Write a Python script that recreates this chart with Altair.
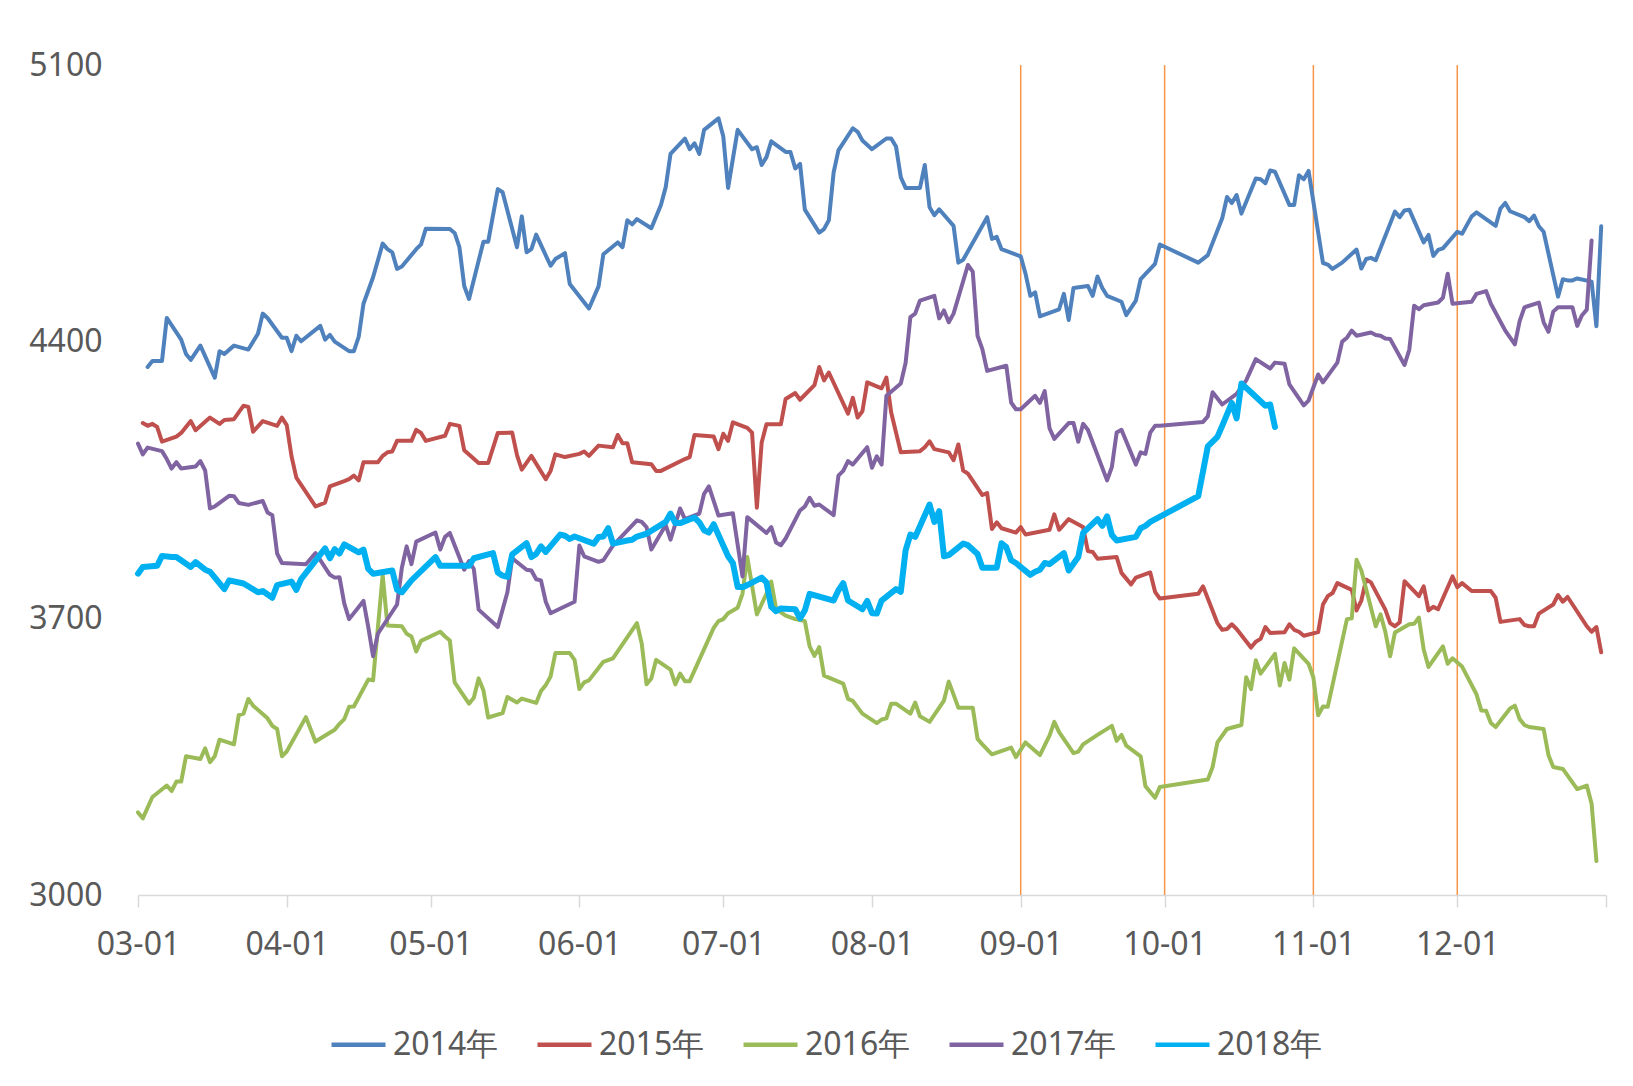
import altair as alt
import pandas as pd

# ---- data (x = days after 03-01, y = value) ----
d2014 = [2,3,5,6,9,10,11,13,16,17,18,20,23,25,26,27,30,31,32,33,34,38,39,40,41,44,45,46,47,49,51,52,53,54,55,58,59,60,65,66,67,68,69,72,73,75,76,79,80,81,82,83,86,87,89,90,94,96,97,100,101,102,103,104,107,109,110,111,114,115,116,117,118,121,122,123,125,128,129,130,131,132,135,136,137,138,139,142,143,144,145,146,149,150,151,153,156,157,158,159,160,163,164,165,166,167,170,171,172,177,178,179,180,184,185,186,187,188,192,193,194,195,198,199,200,201,202,205,206,208,209,212,213,221,223,226,227,228,229,230,233,234,235,236,237,240,241,242,243,244,247,248,249,251,254,255,256,257,258,262,263,264,265,268,269,270,271,272,275,276,278,279,283,284,285,286,289,290,291,292,293,296,297,298,299,300,303,304,305]
v2014 = [4336,4351,4351,4460,4405,4369,4354,4390,4309,4376,4369,4390,4380,4420,4471,4460,4410,4410,4376,4415,4401,4440,4405,4417,4400,4376,4376,4412,4496,4563,4648,4634,4626,4584,4590,4634,4646,4686,4685,4675,4639,4541,4508,4653,4653,4786,4778,4639,4717,4626,4634,4671,4592,4609,4624,4546,4484,4540,4621,4651,4639,4707,4697,4710,4687,4746,4791,4875,4914,4887,4902,4875,4936,4965,4919,4789,4936,4887,4892,4847,4867,4907,4880,4880,4838,4850,4734,4676,4685,4707,4828,4884,4940,4931,4909,4887,4914,4914,4894,4816,4789,4789,4847,4740,4720,4735,4693,4600,4607,4715,4660,4665,4634,4616,4572,4516,4525,4464,4482,4521,4455,4536,4541,4516,4565,4536,4516,4501,4467,4504,4558,4597,4646,4600,4619,4712,4766,4751,4771,4724,4813,4811,4801,4833,4830,4746,4746,4821,4811,4832,4599,4595,4584,4600,4633,4585,4609,4612,4606,4729,4715,4732,4734,4651,4670,4617,4632,4636,4678,4673,4717,4727,4693,4737,4751,4730,4715,4705,4719,4692,4678,4514,4558,4555,4555,4560,4552,4439,4692]

d2015 = [1,2,3,4,5,8,9,11,12,15,17,18,20,22,23,24,26,29,30,31,32,33,37,39,40,43,44,45,46,47,50,51,52,53,54,57,58,59,60,64,65,67,68,71,73,75,78,79,80,82,85,86,87,89,92,93,94,96,99,100,101,102,103,107,108,109,114,115,116,120,121,122,123,124,127,128,129,130,131,134,135,137,138,141,142,143,144,148,149,150,151,152,155,156,157,159,163,164,165,166,169,170,171,172,173,176,177,178,179,180,183,184,185,190,191,192,194,197,198,199,200,204,205,207,208,211,212,213,221,222,225,226,227,228,229,232,233,234,235,236,239,240,241,242,243,246,247,248,249,250,253,254,255,256,257,260,261,262,263,264,267,268,269,270,271,274,275,276,278,282,283,284,288,289,290,291,292,295,296,297,298,302,303,304,305]
v2015 = [4194,4187,4192,4184,4147,4160,4169,4199,4176,4208,4192,4202,4204,4238,4235,4172,4199,4187,4208,4189,4110,4056,3983,3993,4034,4047,4052,4061,4049,4095,4095,4111,4120,4122,4149,4149,4177,4169,4149,4162,4192,4187,4125,4093,4093,4169,4170,4113,4076,4111,4052,4073,4115,4108,4116,4122,4111,4137,4133,4164,4143,4143,4095,4090,4073,4073,4103,4108,4164,4160,4128,4167,4149,4196,4182,4170,3980,4145,4191,4191,4255,4270,4253,4290,4336,4302,4322,4218,4258,4208,4224,4297,4282,4309,4221,4120,4123,4133,4148,4128,4120,4100,4140,4074,4066,4012,4017,3926,3943,3928,3917,3931,3912,3924,3963,3924,3951,3931,3870,3868,3851,3855,3815,3786,3803,3816,3767,3750,3762,3781,3688,3671,3673,3685,3673,3626,3641,3648,3678,3663,3665,3685,3671,3666,3656,3665,3735,3756,3764,3789,3772,3720,3745,3798,3791,3722,3688,3680,3690,3794,3756,3781,3720,3729,3723,3806,3779,3789,3769,3769,3752,3691,3698,3683,3680,3680,3712,3735,3759,3742,3754,3680,3666,3678,3614]

d2016 = [0,1,3,6,7,8,9,10,13,14,15,16,17,20,21,22,23,24,27,28,29,30,31,35,37,38,41,42,43,44,45,48,49,51,52,55,56,57,58,59,63,64,65,66,69,70,71,72,73,76,77,79,80,83,84,85,86,87,90,91,92,93,94,97,99,104,105,106,107,108,111,112,113,114,115,120,121,122,123,125,126,127,129,131,132,133,135,137,139,140,141,142,143,147,148,149,151,154,155,156,157,158,161,162,163,165,168,169,171,174,175,176,178,182,183,185,188,190,191,192,195,196,197,200,203,204,205,206,209,210,212,213,223,224,225,227,230,231,232,233,234,237,238,239,240,241,244,245,246,247,248,252,253,254,255,258,259,260,261,262,265,266,267,268,269,272,273,274,276,279,280,281,282,283,286,287,288,289,290,293,294,295,297,300,302,303,304]
v2016 = [3209,3194,3248,3277,3263,3287,3287,3351,3344,3371,3336,3351,3393,3381,3455,3459,3496,3479,3447,3428,3420,3351,3363,3450,3388,3396,3418,3433,3445,3476,3477,3545,3543,3809,3682,3680,3661,3654,3616,3643,3666,3654,3644,3538,3484,3499,3548,3518,3449,3460,3501,3487,3497,3486,3516,3531,3553,3612,3612,3595,3521,3538,3543,3590,3599,3688,3636,3533,3548,3595,3570,3533,3560,3541,3541,3676,3693,3698,3713,3727,3762,3855,3710,3762,3793,3724,3707,3698,3693,3629,3605,3627,3555,3535,3496,3491,3459,3435,3444,3447,3484,3484,3459,3487,3452,3438,3492,3540,3474,3474,3395,3381,3356,3373,3349,3386,3354,3403,3438,3412,3359,3363,3381,3405,3428,3390,3405,3378,3351,3275,3246,3273,3292,3324,3386,3420,3430,3551,3521,3594,3560,3610,3530,3587,3545,3624,3585,3551,3455,3477,3476,3698,3700,3848,3821,3680,3710,3666,3604,3664,3685,3686,3702,3621,3577,3629,3585,3599,3578,3508,3467,3466,3435,3425,3472,3479,3445,3430,3425,3420,3354,3324,3319,3268,3277,3231,3086]

d2017 = [0,1,2,5,6,7,8,9,12,13,14,15,16,19,20,21,23,26,27,28,29,30,35,37,38,40,41,42,43,44,47,48,49,50,54,55,56,57,58,62,63,64,65,68,69,70,71,75,77,78,81,82,83,84,85,86,91,92,93,96,97,99,104,105,106,107,110,111,113,114,117,118,119,121,124,126,127,131,132,133,134,135,138,139,140,141,142,145,146,147,148,149,152,153,154,155,156,159,160,161,162,163,166,167,168,169,170,173,174,175,176,177,181,182,183,184,187,188,189,190,191,194,195,196,197,198,202,203,204,205,208,209,210,211,212,213,222,223,224,226,229,231,233,236,237,239,240,243,244,246,247,250,251,252,253,254,257,258,259,260,261,264,265,266,267,268,271,272,273,274,278,279,281,282,285,287,288,289,292,293,294,295,296,299,300,301,302,303]
v2017 = [4142,4115,4132,4123,4103,4079,4095,4079,4084,4098,4074,3978,3983,4010,4009,3992,3987,3997,3968,3961,3864,3840,3837,3865,3847,3810,3803,3804,3737,3698,3744,3678,3604,3661,3735,3828,3882,3837,3894,3917,3874,3906,3916,3823,3845,3825,3722,3678,3766,3852,3823,3821,3799,3796,3742,3713,3742,3884,3857,3843,3847,3884,3948,3944,3931,3874,3936,3899,3978,3951,3965,4015,4034,3960,3966,3806,3956,3916,3931,3892,3885,3902,3973,3983,4005,3985,3988,3961,4061,4073,4098,4089,4133,4081,4110,4089,4263,4294,4346,4462,4471,4504,4516,4459,4479,4449,4471,4594,4577,4415,4381,4326,4339,4246,4229,4229,4263,4245,4275,4181,4154,4194,4194,4147,4192,4177,4049,4083,4170,4177,4089,4120,4116,4170,4187,4187,4197,4211,4272,4241,4268,4302,4356,4332,4347,4344,4292,4239,4251,4317,4297,4347,4400,4410,4428,4415,4423,4417,4415,4408,4407,4341,4380,4491,4482,4492,4499,4511,4572,4496,4501,4521,4528,4496,4428,4393,4452,4487,4499,4449,4425,4476,4487,4487,4440,4467,4481,4656]

d2018 = [0,1,4,5,7,8,11,12,14,15,18,19,22,25,26,28,29,32,33,34,39,40,41,42,43,46,47,48,49,53,54,55,57,62,63,69,70,74,75,76,77,78,81,82,83,84,85,88,89,90,91,95,96,97,98,99,102,103,104,106,110,111,112,113,116,117,118,119,120,123,124,125,126,127,130,131,132,133,134,137,138,139,140,145,146,147,148,151,152,153,154,155,158,159,160,161,162,165,166,167,168,169,172,173,175,176,179,180,181,182,183,186,187,188,189,190,193,194,196,197,200,201,202,203,204,208,209,210,211,221,223,225,226,228,229,230,232,235,236,237]
v2018 = [3813,3830,3833,3858,3855,3855,3830,3842,3823,3818,3774,3796,3788,3766,3769,3752,3784,3793,3772,3799,3877,3852,3875,3864,3887,3867,3874,3825,3813,3821,3772,3766,3796,3855,3833,3833,3852,3865,3816,3808,3805,3862,3890,3855,3863,3882,3868,3912,3909,3901,3907,3889,3906,3907,3928,3889,3897,3899,3907,3914,3944,3965,3941,3941,3955,3943,3923,3917,3938,3857,3840,3779,3779,3784,3803,3791,3729,3718,3725,3723,3700,3720,3762,3745,3771,3789,3745,3723,3744,3713,3712,3745,3774,3767,3872,3912,3906,3988,3944,3971,3857,3860,3889,3885,3863,3828,3828,3890,3880,3847,3840,3810,3818,3823,3840,3837,3865,3821,3855,3916,3951,3934,3958,3911,3897,3906,3928,3934,3944,4009,4135,4159,4187,4245,4206,4294,4272,4238,4241,4184]

series_names = ["2014年", "2015年", "2016年", "2017年", "2018年"]
series_colors = ["#4F81BD", "#C0504D", "#9BBB59", "#8064A2", "#00B0F0"]
series_widths = [4, 4, 4, 4, 6]
marker_dates = ["2001-09-01", "2001-10-01", "2001-11-01", "2001-12-01"]
y_ticks = [3000, 3700, 4400, 5100]
x_tick_months = [3, 4, 5, 6, 7, 8, 9, 10, 11, 12]

base = pd.Timestamp("2001-03-01")
frames = []
for i, (name, dd, vv) in enumerate(zip(series_names, [d2014, d2015, d2016, d2017, d2018],
                                       [v2014, v2015, v2016, v2017, v2018])):
    frames.append(pd.DataFrame({
        "date": [(base + pd.Timedelta(days=d)).strftime("%Y-%m-%d") for d in dd],
        "value": vv,
        "series": name,
        "w": series_widths[i],
    }))
df = pd.concat(frames, ignore_index=True)
marks_df = pd.DataFrame({"date": marker_dates})

FONT = "Noto Sans"
TXT = "#595959"

tick_vals = [alt.DateTime(year=2001, month=m, date=1, utc=True) for m in x_tick_months]
tick_vals.append(alt.DateTime(year=2002, month=1, date=1, utc=True))

x_enc = alt.X(
    "date:T",
    scale=alt.Scale(type="utc",
                    domain=[alt.DateTime(year=2001, month=3, date=1, utc=True),
                            alt.DateTime(year=2002, month=1, date=1, utc=True)]),
    axis=alt.Axis(values=tick_vals,
                  labelExpr="utcmonth(datum.value) == 0 ? '' : utcFormat(datum.value, '%m-%d')",
                  title=None, grid=False, domainColor="#D9D9D9", domainWidth=1.5,
                  tickColor="#D9D9D9", tickSize=12, tickWidth=1.5,
                  labelFont=FONT, labelFontSize=32, labelColor=TXT,
                  labelPadding=22, labelFlush=False, labelOverlap=False),
)

lines = alt.Chart(df).mark_line(strokeJoin="round", strokeCap="round").encode(
    x=x_enc,
    y=alt.Y("value:Q",
            scale=alt.Scale(domain=[3000, 5100], nice=False, zero=False),
            axis=alt.Axis(values=y_ticks, format="d", title=None, grid=False,
                          domain=False, ticks=False, labelFont=FONT,
                          labelFontSize=32, labelColor=TXT, labelPadding=36)),
    color=alt.Color("series:N",
                    scale=alt.Scale(domain=series_names, range=series_colors),
                    legend=alt.Legend(orient="none", direction="horizontal",
                                      legendX=191, legendY=950, title=None,
                                      symbolType="stroke", symbolSize=2916,
                                      symbolStrokeWidth=4.5, labelFont=FONT,
                                      labelFontSize=32, labelColor=TXT,
                                      labelOffset=5, columnPadding=29,
                                      labelLimit=300)),
    strokeWidth=alt.StrokeWidth("w:Q", scale=None, legend=None),
)

rules = alt.Chart(marks_df).mark_rule(color="#F79646", strokeWidth=1.5).encode(
    x=alt.X("date:T", scale=alt.Scale(type="utc")),
)

chart = alt.layer(rules, lines).properties(
    width=1468, height=830,
    padding={"left": 130, "top": 57, "right": 10, "bottom": 175},
    autosize=alt.AutoSizeParams(type="none"),
    background="white",
).configure_view(stroke=None)

chart.save("out.html", embed_options={"renderer": "svg", "actions": False})
